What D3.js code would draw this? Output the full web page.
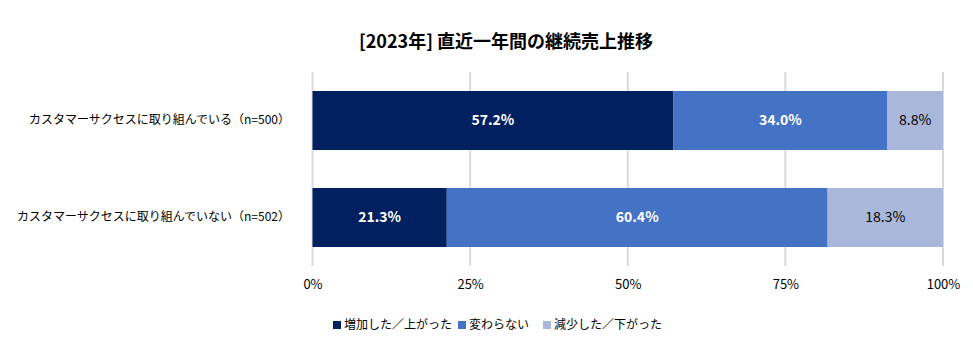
<!DOCTYPE html>
<html>

<head>
    <meta charset="UTF-8">
    <title>[2023年] 直近一年間の継続売上推移</title>
    <script src="https://d3js.org/d3.v7.min.js"></script>
    <style>
        body { margin: 0; background: #fff; }
        text { font-family: "Noto Sans CJK JP", "Noto Sans", sans-serif; }
    </style>
</head>

<body>
    <div class="canvas"></div>

    <script>
        // data
        const categories = ["カスタマーサクセスに取り組んでいる（n=500）", "カスタマーサクセスに取り組んでいない（n=502）"];
        const seriesNames = ["増加した／上がった", "変わらない", "減少した／下がった"];
        const increased = [57.2, 21.3];
        const unchanged = [34.0, 60.4];
        const decreased = [8.8, 18.3];
        const tickValues = [0, 25, 50, 75, 100];

        const colors = ["#002060", "#4472C4", "#A9B7DB"];
        const labelColors = ["#ffffff", "#ffffff", "#000000"];
        const labelWeights = ["bold", "bold", "normal"];

        const width = 973;
        const height = 351;

        const svg = d3.select(".canvas")
            .append("svg")
            .attr("width", width)
            .attr("height", height);

        // scales
        const x = d3.scaleLinear()
            .domain([0, 100])
            .range([312.5, 943]);

        const y = d3.scaleBand()
            .domain(categories)
            .range([72, 266])
            .paddingInner(0.392)
            .paddingOuter(0.196);

        // title
        svg.append("text")
            .attr("x", 506)
            .attr("y", 48)
            .attr("text-anchor", "middle")
            .attr("font-size", 18)
            .attr("font-weight", "bold")
            .attr("fill", "#000")
            .text("[2023年] 直近一年間の継続売上推移");

        // gridlines
        svg.append("g")
            .selectAll("line")
            .data(tickValues)
            .enter()
            .append("line")
            .attr("x1", d => x(d))
            .attr("x2", d => x(d))
            .attr("y1", 72)
            .attr("y2", 266)
            .attr("stroke", "#d9d9d9")
            .attr("stroke-width", 2);

        // x axis
        const xAxis = d3.axisBottom(x)
            .tickValues(tickValues)
            .tickSize(0)
            .tickPadding(0)
            .tickFormat(d => d + "%");

        const xAxisGroup = svg.append("g")
            .attr("transform", "translate(0, 280)")
            .call(xAxis);
        xAxisGroup.select(".domain").remove();
        xAxisGroup.selectAll("text")
            .attr("font-size", 13)
            .attr("fill", "#000")
            .style("font-family", "\"Noto Sans CJK JP\", sans-serif");

        // y axis (category labels)
        const yAxis = d3.axisLeft(y).tickSize(0).tickPadding(0);
        const yAxisGroup = svg.append("g")
            .attr("transform", "translate(290, 0)")
            .call(yAxis);
        yAxisGroup.select(".domain").remove();
        yAxisGroup.selectAll("text")
            .attr("font-size", 12)
            .attr("fill", "#000")
            .style("font-family", "\"Noto Sans CJK JP\", sans-serif");

        // stacked data
        const rows = categories.map((c, i) => ({
            name: c,
            s0: increased[i],
            s1: unchanged[i],
            s2: decreased[i]
        }));
        const stack = d3.stack().keys(["s0", "s1", "s2"]);
        const layers = stack(rows);

        const layerGroups = svg.append("g")
            .selectAll("g")
            .data(layers)
            .enter()
            .append("g")
            .attr("fill", (d, i) => colors[i]);

        layerGroups.selectAll("rect")
            .data(d => d)
            .enter()
            .append("rect")
            .attr("x", d => x(d[0]))
            .attr("y", d => y(d.data.name))
            .attr("width", d => x(d[1]) - x(d[0]))
            .attr("height", y.bandwidth());

        // value labels
        layerGroups.selectAll("text")
            .data((d, i) => d.map(v => ({ v, i })))
            .enter()
            .append("text")
            .attr("x", d => (x(d.v[0]) + x(d.v[1])) / 2)
            .attr("y", d => y(d.v.data.name) + y.bandwidth() / 2)
            .attr("dy", "0.35em")
            .attr("text-anchor", "middle")
            .attr("font-size", 14)
            .attr("font-weight", d => labelWeights[d.i])
            .attr("fill", d => labelColors[d.i])
            .text(d => (d.v[1] - d.v[0]).toFixed(1) + "%");

        // legend
        const legendX = [333, 458, 543];
        const legend = svg.append("g")
            .selectAll("g")
            .data(seriesNames)
            .enter()
            .append("g")
            .attr("transform", (d, i) => `translate(${legendX[i]}, 325)`);

        legend.append("rect")
            .attr("x", 0)
            .attr("y", -4)
            .attr("width", 8)
            .attr("height", 8)
            .attr("fill", (d, i) => colors[i]);

        legend.append("text")
            .attr("x", 11)
            .attr("y", 0)
            .attr("dy", "0.35em")
            .attr("font-size", 12)
            .attr("fill", "#000")
            .text(d => d);
    </script>
</body>

</html>
